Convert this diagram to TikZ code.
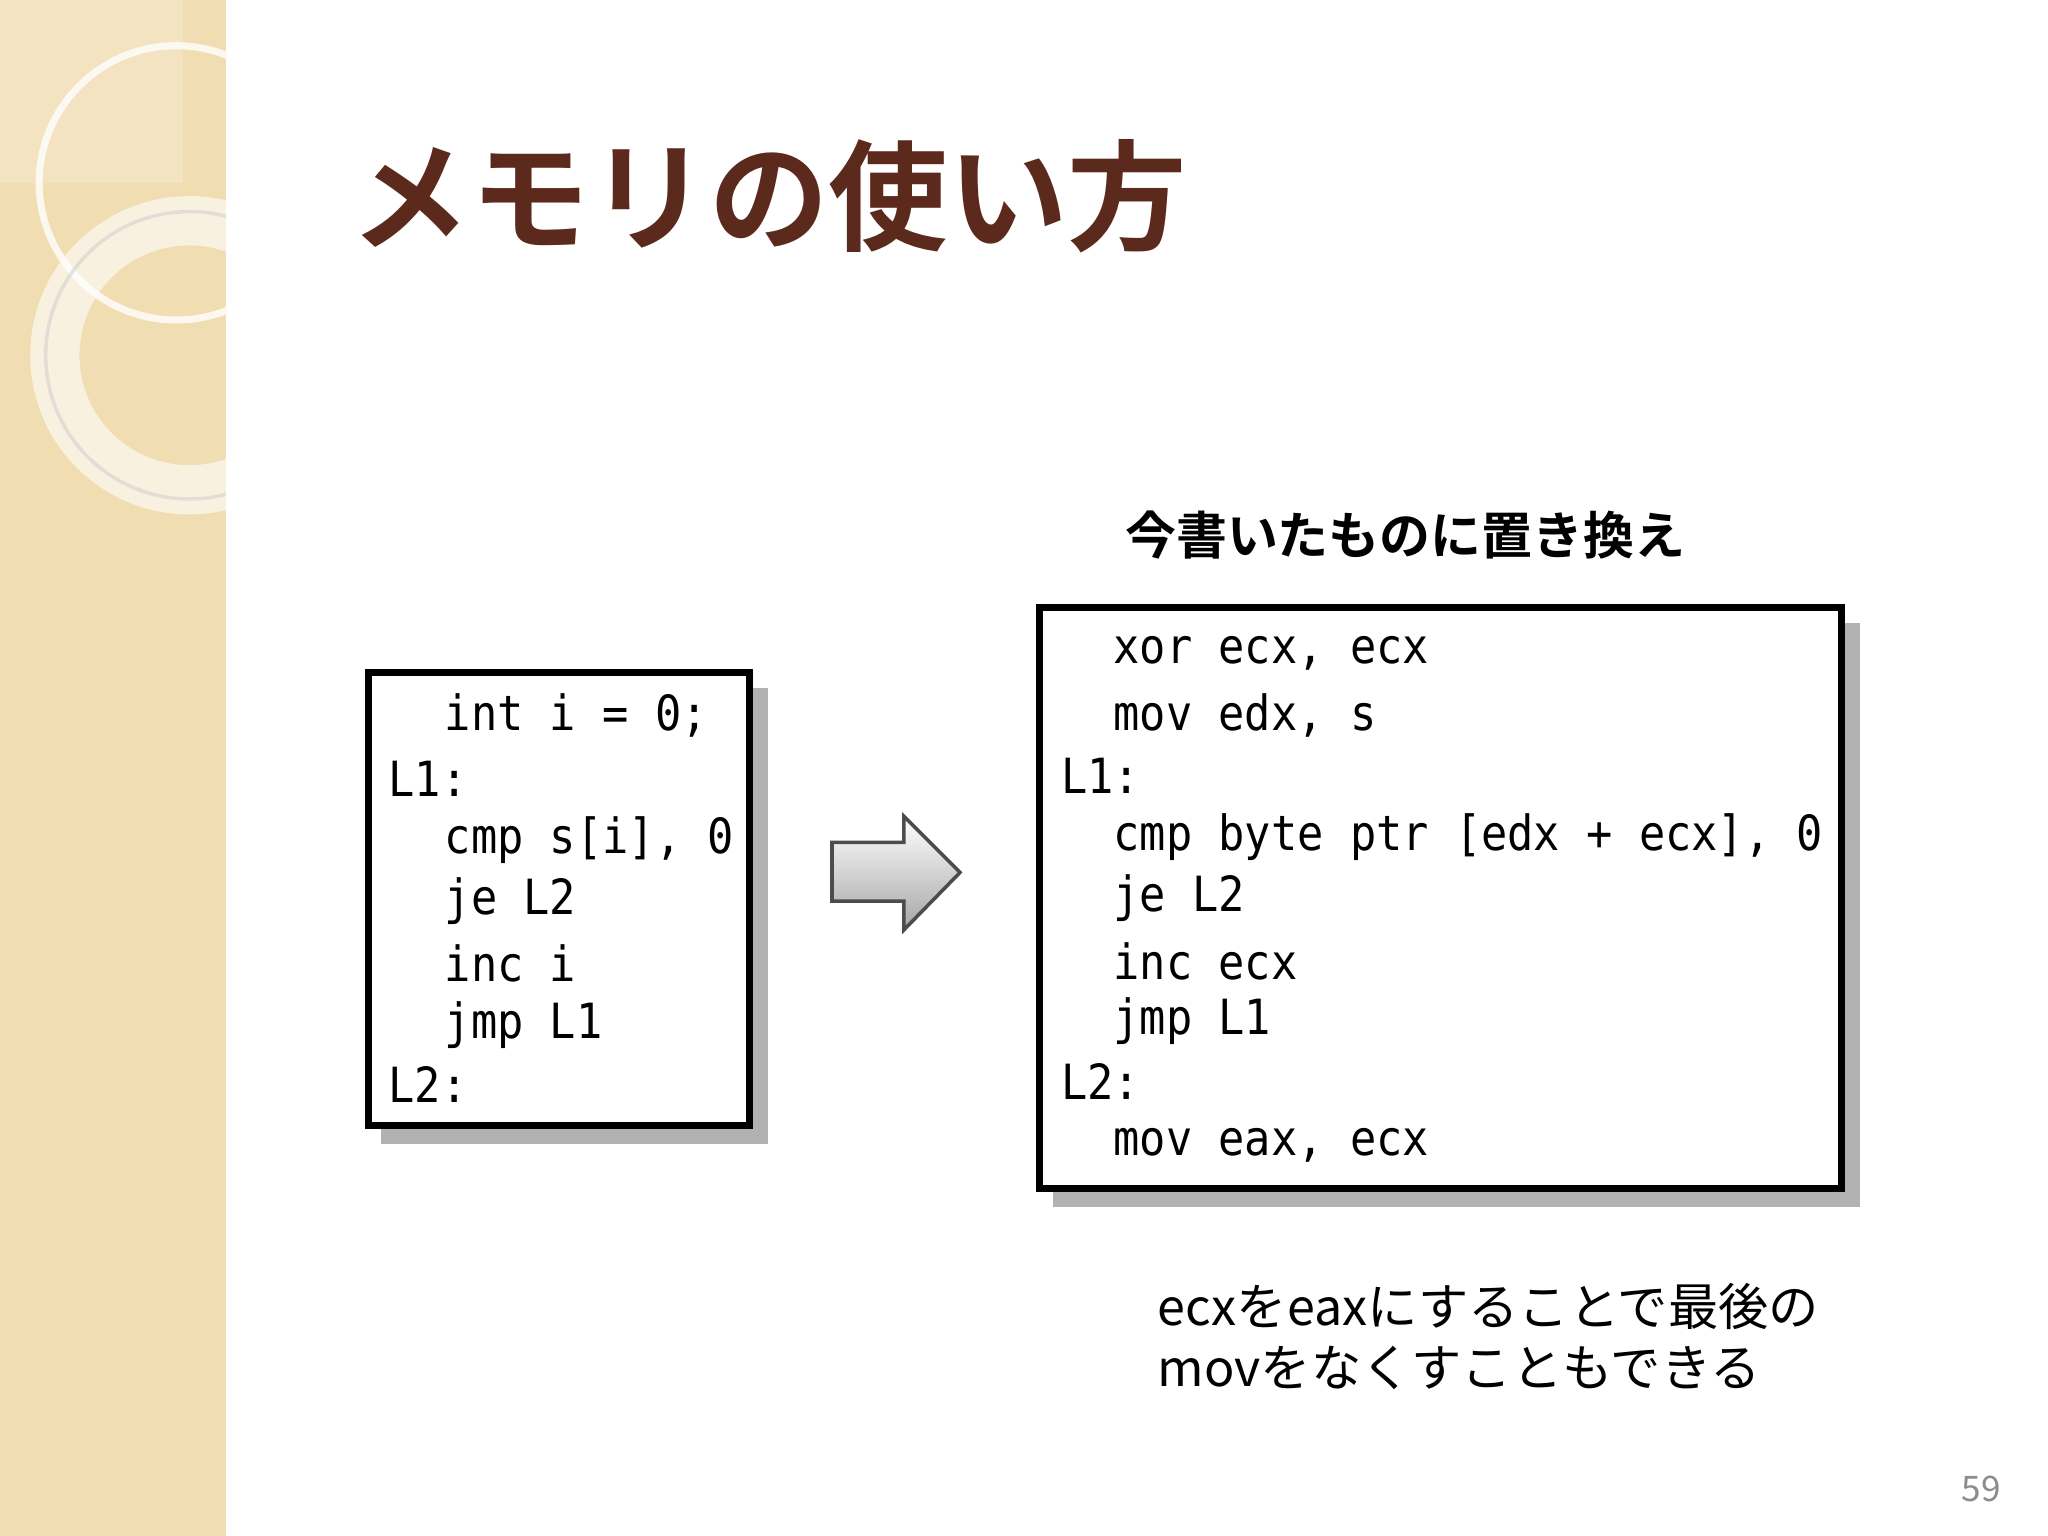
\documentclass[tikz,border=0pt]{standalone}
\usepackage{fontspec}
\newfontfamily\jp{Noto Sans CJK JP}
\newfontfamily\jpb{Noto Sans CJK JP Bold}
\newfontfamily\mono[FakeStretch=0.9]{DejaVu Sans Mono}
\usetikzlibrary{shapes.arrows}
\definecolor{beige}{HTML}{F1DDB2}
\definecolor{title}{HTML}{5C2A1C}
\tikzset{
  codebox/.style={draw=black,line width=2pt,fill=white},
  shadowbox/.style={fill=black!30},
  code/.style={anchor=west,inner sep=0pt,font=\mono\fontsize{13.8}{14}\selectfont},
}
\begin{document}
\begin{tikzpicture}[x=0.013061cm,y=-0.013061cm]
\useasboundingbox (0,0) rectangle (1568,1176);
\fill[white] (0,0) rectangle (1568,1176);
% left strip
\fill[beige] (0,0) rectangle (173,1176);
\begin{scope}
\clip (0,0) rectangle (173,1176);
\fill[white,opacity=0.2] (0,0) rectangle (140,140);
\draw[white,opacity=0.8,line width=2pt] (135,140) circle (105);
\draw[white,opacity=0.6,line width=14pt] (145,272) circle (103);
\draw[black!20,opacity=0.5,line width=1pt] (145,272) circle (110);
\end{scope}
% title
\node[anchor=west,text=title,font=\jpb\fontsize{34}{40}\selectfont,inner sep=0pt] (title) at (268,150) {メモリの使い方};
% caption
\node[font=\jpb\fontsize{14.5}{17}\selectfont,inner sep=0pt] (cap) at (1076,410) {今書いたものに置き換え};
% left box
\fill[shadowbox] (292,527) rectangle (588,876);
\draw[codebox] (282,515) rectangle (574,862);
\node[code] (l1) at (340,548) {int i = 0;};
\node[code] (l2) at (297,596) {L1:};
\node[code] (l3) at (340,643) {cmp s[i], 0};
\node[code] (l4) at (340,690) {je L2};
\node[code] (l5) at (340,738) {inc i};
\node[code] (l6) at (340,785) {jmp L1};
\node[code] (l7) at (297,830) {L2:};
% arrow
\shade[top color=white,bottom color=black!35,draw=black!70,line width=1pt]
 (637,645) -- (692,645) -- (692,625) -- (735,668) -- (692,712) -- (692,690) -- (637,690) -- cycle;
% right box
\fill[shadowbox] (806,477) rectangle (1424,924);
\draw[codebox] (796,465) rectangle (1410,910);
\node[code] (r1) at (852,500) {xor ecx, ecx};
\node[code] (r2) at (852,548) {mov edx, s};
\node[code] (r3) at (812,594) {L1:};
\node[code] (r4) at (852,641) {cmp byte ptr [edx + ecx], 0};
\node[code] (r5) at (852,688) {je L2};
\node[code] (r6) at (852,736) {inc ecx};
\node[code] (r7) at (852,782) {jmp L1};
\node[code] (r8) at (812,828) {L2:};
\node[code] (r9) at (852,877) {mov eax, ecx};
% note
\node[anchor=west,inner sep=0pt,font=\jp\fontsize{14.3}{17}\selectfont] (n1) at (886,1000) {ecxをeaxにすることで最後の};
\node[anchor=west,inner sep=0pt,font=\jp\fontsize{14.3}{17}\selectfont] (n2) at (886,1047) {movをなくすこともできる};
\node[text=black!45,font=\jp\fontsize{10}{12}\selectfont] (pn) at (1517,1140) {59};
\end{tikzpicture}
\end{document}
